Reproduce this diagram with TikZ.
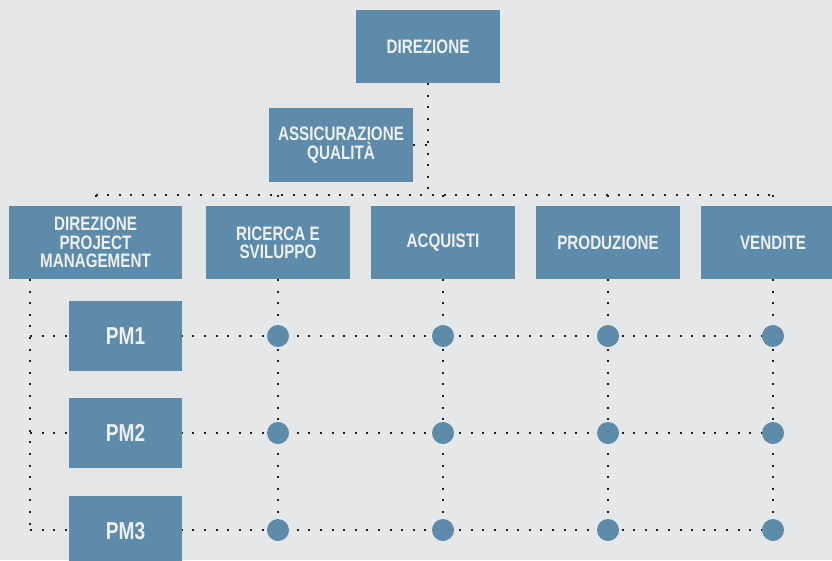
\documentclass[tikz,border=0pt]{standalone}
\usepackage{fontspec}
\setmainfont{Liberation Sans}[FakeStretch=0.78]
\usetikzlibrary{backgrounds}
\definecolor{bg}{HTML}{E6E7E9}
\definecolor{boxc}{HTML}{5E8BAA}
\definecolor{txtc}{HTML}{EEF0F2}
\definecolor{dotc}{HTML}{1E1E1E}
\tikzset{
  box/.style={fill=boxc, inner sep=0pt, outer sep=0pt, align=center,
    text=txtc, font=\fontsize{19.5}{18.3}\selectfont\bfseries},
  dept/.style={box, minimum width=144pt, minimum height=73pt},
  pmbox/.style={box, minimum width=113pt, minimum height=70pt,
    font=\fontsize{24.5}{24}\selectfont\bfseries},
  dotline/.style={draw=dotc, line width=2pt, dash pattern=on 2pt off 9.6pt},
  knot/.style={circle, fill=boxc, minimum size=22pt, inner sep=0pt, outer sep=0pt}
}
\begin{document}
\begin{tikzpicture}[x=1pt,y=-1pt]
\useasboundingbox (0,0) rectangle (832,560);
\clip (0,0) rectangle (832,560);
% boxes
\node[dept] (dir) at (428,46.5) {DIREZIONE};
\node[dept, minimum height=74pt] (aq) at (341,145) {ASSICURAZIONE\\QUALITÀ};
\node[dept, minimum width=173pt] (dpm) at (95.5,242.5) {DIREZIONE\\PROJECT\\MANAGEMENT};
\node[dept] (rs) at (278,242.5) {RICERCA E\\SVILUPPO};
\node[dept] (acq) at (443,242.5) {ACQUISTI};
\node[dept] (prod) at (608,242.5) {PRODUZIONE};
\node[dept] (vend) at (773,242.5) {VENDITE};
\node[pmbox] (pm1) at (125.5,336) {PM1};
\node[pmbox] (pm2) at (125.5,433) {PM2};
\node[pmbox] (pm3) at (125.5,531) {PM3};
% knots
\foreach \r/\y in {1/336,2/433,3/530}{
  \foreach \c/\x in {1/278,2/443,3/608,4/773}{
    \node[knot] (k\r\c) at (\x,\y) {};
  }
}
\coordinate (hub) at (428,195);
\coordinate (l0) at (30,279);
\coordinate (l1) at (30,336);
\coordinate (l2) at (30,433);
\coordinate (l3) at (30,530);
\begin{scope}[on background layer]
  \fill[bg] (0,0) rectangle (832,560);
  \draw[dotline] (dir.south) -- (hub);
  \draw[dotline] (aq.east) -- (aq.east -| hub);
  \draw[dotline] (dpm.north |- hub) -- (vend.north |- hub);
  \foreach \n in {dpm,rs,acq,prod,vend}{
    \draw[dotline] (\n.north |- hub) -- (\n.north);
  }
  \draw[dotline] (l0) -- (l3);
  \draw[dotline] (l1) -- (k14);
  \draw[dotline] (l2) -- (k24);
  \draw[dotline] (l3) -- (k34);
  \draw[dotline] (rs.south) -- (k31);
  \draw[dotline] (acq.south) -- (k32);
  \draw[dotline] (prod.south) -- (k33);
  \draw[dotline] (vend.south) -- (k34);
\end{scope}
\end{tikzpicture}
\end{document}
